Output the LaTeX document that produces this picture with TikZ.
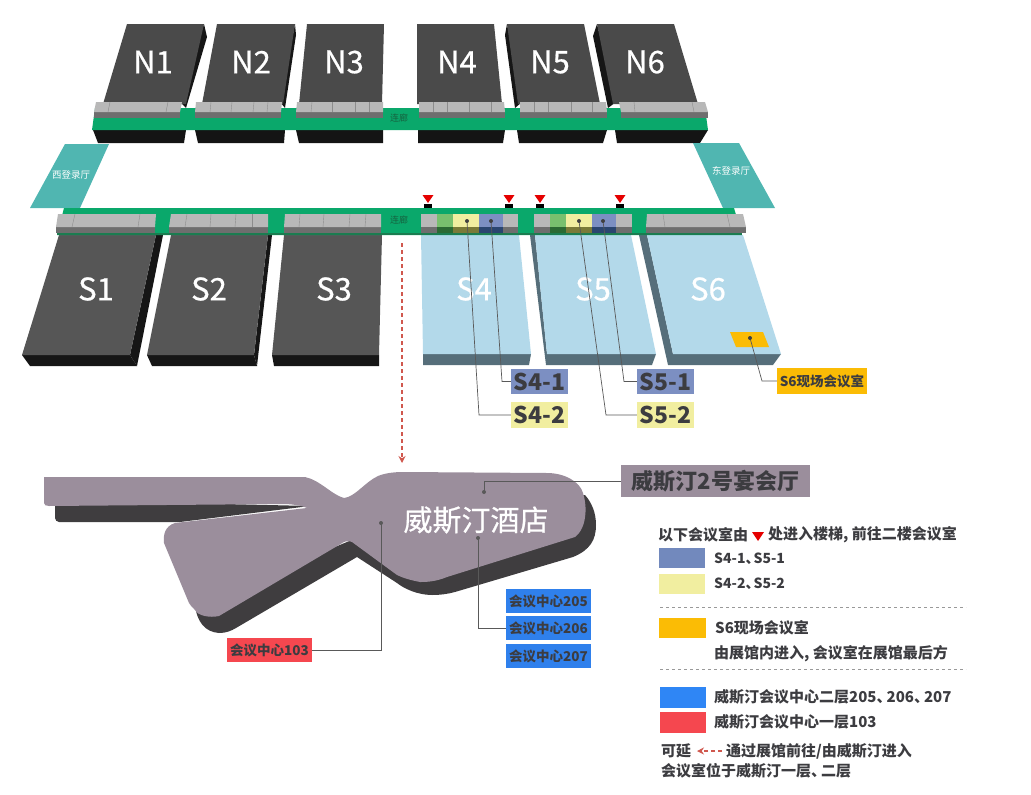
\documentclass[tikz,border=0pt]{standalone}
\usepackage{fontspec}
\setmainfont{Noto Sans CJK SC}
\newfontfamily\medfont[FakeBold=0.6]{Noto Sans CJK SC}
\usetikzlibrary{arrows.meta}

\definecolor{hallN}{HTML}{4A4A4A}
\definecolor{hallS}{HTML}{565656}
\definecolor{hallSide}{HTML}{161616}
\definecolor{hallBlue}{HTML}{B3D9EA}
\definecolor{hallBlueSide}{HTML}{566E7A}
\definecolor{bandGreen}{HTML}{0AA86B}
\definecolor{bandDark}{HTML}{1B7C50}
\definecolor{lobbyTeal}{HTML}{50B6B1}
\definecolor{barTop}{HTML}{B8B8B8}
\definecolor{barFront}{HTML}{6E6E6E}
\definecolor{cellGreen}{HTML}{78C06E}
\definecolor{cellGreenFront}{HTML}{2B6A33}
\definecolor{cellYellowFront}{HTML}{7A7A38}
\definecolor{cellBlueFront}{HTML}{2A4570}
\definecolor{roomBlue}{HTML}{7C8FC2}
\definecolor{roomYellow}{HTML}{F1EEA0}
\definecolor{roomOrange}{HTML}{FBBC05}
\definecolor{hotelBlue}{HTML}{2F80EC}
\definecolor{hotelRed}{HTML}{F5474F}
\definecolor{hotelGrey}{HTML}{9B8E9C}
\definecolor{hotelShade}{HTML}{3F3D3F}
\definecolor{inkDark}{HTML}{3C3C40}
\definecolor{flowRed}{HTML}{D0584E}
\definecolor{legendBlue}{HTML}{7289BD}
\definecolor{legendHotel}{HTML}{2F86F5}

\tikzset{
    halllabel/.style={text=white, font=\medfont\fontsize{31}{31}\selectfont, inner sep=0pt},
    lobbylabel/.style={text=white, font=\fontsize{9.5}{10}\selectfont, inner sep=0pt},
    bandlabel/.style={text=bandDark!80!black, font=\fontsize{9}{9}\selectfont, inner sep=0pt},
    roomtag/.style={text=inkDark, font=\bfseries\fontsize{23}{23}\selectfont, inner sep=0pt, minimum width=57, minimum height=25.5},
    smalltag/.style={text=inkDark, font=\bfseries\fontsize{13.5}{14}\selectfont, inner sep=0pt, minimum width=84.5, minimum height=24},
    leader/.style={draw=black!65, line width=0.7pt},
    legendtext/.style={text=inkDark, font=\bfseries\fontsize{15}{15}\selectfont, inner sep=0pt, anchor=west},
    legendline/.style={draw=black!40, line width=0.5pt, dash pattern=on 3pt off 3pt},
    routeline/.style={flowRed, line width=1.3pt, dash pattern=on 4pt off 3pt, -{Stealth[length=7pt, width=7pt]}}
}

% top face and front face of a strip along a hall
\newcommand{\gatebar}[7]{
    \fill[barFront] (#3,#6) -- (#4,#6) -- (#4,#7) -- (#3,#7) -- cycle;
    \fill[barTop] (#1,#5) -- (#2,#5) -- (#4,#6) -- (#3,#6) -- cycle;
}

\begin{document}
\begin{tikzpicture}[x=1pt, y=-1pt]
    \useasboundingbox (0,0) rectangle (1031,795);

    % North halls, undersides
    \foreach \xa/\xb/\xc/\xd in {93/98/184/186, 195/198/284/285, 296/299/383/383, 418/418/503/505, 517/519/603/607, 615/617/700/708}
        \fill[black!92] (\xa,130) -- (\xb,143) -- (\xc,143) -- (\xd,130) -- cycle;

    % North halls
    \fill[hallSide] (204,24) -- (207,37) -- (186,108) -- (180,102) -- cycle;
    \fill[hallSide] (295,24) -- (296,35) -- (285,108) -- (280,102) -- cycle;
    \fill[hallSide] (507,24) -- (505,35) -- (515,108) -- (522,102) -- cycle;
    \fill[hallSide] (597,24) -- (593,36) -- (608,108) -- (616,102) -- cycle;
    \fill[hallN] (127,24) -- (204,24) -- (186,104) -- (103,104) -- cycle;
    \fill[hallN] (217,24) -- (295,24) -- (283,104) -- (202,104) -- cycle;
    \fill[hallN] (307,24) -- (384,24) -- (382,104) -- (299,104) -- cycle;
    \fill[hallN] (417,24) -- (494,24) -- (502,104) -- (417,104) -- cycle;
    \fill[hallN] (507,24) -- (584,24) -- (600,104) -- (518,104) -- cycle;
    \fill[hallN] (597,24) -- (674,24) -- (698,104) -- (613,104) -- cycle;

    % North corridor
    \fill[bandGreen] (95,108) -- (705,108) -- (708,130) -- (92,130) -- cycle;
    \node[bandlabel] (northwalk) at (399,118) {连廊};

    % North strips
    \gatebar{96}{182}{94}{180}{102}{112}{118}
    \gatebar{196}{282}{195}{281}{102}{112}{118}
    \gatebar{297}{383}{296}{383}{102}{112}{118}
    \gatebar{419}{504}{419}{505}{102}{112}{118}
    \gatebar{520}{606}{520}{607}{102}{112}{118}
    \gatebar{619}{705}{621}{708}{102}{112}{118}
    \foreach \xa/\xb in {110/108, 168/166, 211/210, 232/231, 254/253, 268/267, 312/311, 332/332, 355/355, 369/369, 433/433, 447/447, 469/469, 491/491, 534/534, 548/548, 571/571, 592/592, 634/635, 692/694}
        \draw[black!45, line width=0.4pt] (\xa,102) -- (\xb,112);

    % Lobbies
    \fill[lobbyTeal] (65,144) -- (109,144) -- (80,208) -- (30,208) -- cycle;
    \fill[lobbyTeal] (693,143) -- (739,143) -- (775,208) -- (723,208) -- cycle;
    \node[lobbylabel] (westhall) at (71,175) {西登录厅};
    \node[lobbylabel] (easthall) at (731,171) {东登录厅};

    % South halls
    \fill[hallSide] (156,235) -- (163,235) -- (137,366) -- (130,355) -- cycle;
    \fill[hallSide] (22,355) -- (130,355) -- (137,366) -- (30,366) -- cycle;
    \fill[hallS] (59,235) -- (156,235) -- (130,355) -- (22,355) -- cycle;
    \fill[hallSide] (268,235) -- (272,235) -- (257,366) -- (254,355) -- cycle;
    \fill[hallSide] (147,355) -- (254,355) -- (257,366) -- (152,366) -- cycle;
    \fill[hallS] (171,235) -- (268,235) -- (254,355) -- (147,355) -- cycle;
    \fill[hallSide] (272,355) -- (379,355) -- (379,366) -- (274,366) -- cycle;
    \fill[hallS] (284,235) -- (382,235) -- (379,355) -- (272,355) -- cycle;

    % South halls with rooms
    \fill[hallBlueSide] (423,354) -- (531,354) -- (529,365) -- (423,365) -- cycle;
    \fill[hallBlue] (421,235) -- (519,235) -- (531,354) -- (423,354) -- cycle;
    \fill[hallBlueSide] (530,235) -- (535,235) -- (547,354) -- (656,354) -- (652,365) -- (546,365) -- cycle;
    \fill[hallBlue] (535,235) -- (631,235) -- (656,354) -- (547,354) -- cycle;
    \fill[hallBlueSide] (639,235) -- (647,235) -- (673,354) -- (781,354) -- (773,365) -- (668,365) -- cycle;
    \fill[hallBlue] (647,235) -- (743,235) -- (781,354) -- (673,354) -- cycle;
    \fill[roomOrange] (730,332) -- (763,332) -- (769,347) -- (736,347) -- cycle;

    % South corridor
    \fill[bandGreen] (64,208) -- (734,208) -- (742,235) -- (57,235) -- cycle;
    \fill[bandDark] (57,233) -- (742,233) -- (742,235) -- (57,235) -- cycle;
    \node[bandlabel] (southwalk) at (399,220) {连廊};

    % South strips
    \gatebar{58}{156}{56}{155}{214}{227}{233}
    \gatebar{171}{268}{169}{268}{214}{227}{233}
    \gatebar{285}{381}{284}{381}{214}{227}{233}
    \gatebar{647}{743}{646}{746}{214}{227}{233}
    \foreach \xa/\xb in {75/72, 140/138, 187/185, 211/210, 236/235, 252/252, 300/299, 324/323, 350/349, 366/365, 663/665, 727/730}
        \draw[black!45, line width=0.4pt] (\xa,214) -- (\xb,227);

    % Strips with rooms
    \foreach \xa/\xb/\ctop/\cfront in {421/437/barTop/barFront, 437/453/cellGreen/cellGreenFront, 453/479/roomYellow/cellYellowFront, 479/503/roomBlue/cellBlueFront, 503/518/barTop/barFront,
                                       534/550/barTop/barFront, 550/566/cellGreen/cellGreenFront, 566/592/roomYellow/cellYellowFront, 592/616/roomBlue/cellBlueFront, 616/632/barTop/barFront} {
        \fill[\ctop] (\xa,214) rectangle (\xb,227);
        \fill[\cfront] (\xa,227) rectangle (\xb,233);
    }

    % Stairs
    \foreach \xa in {428, 509, 540, 620} {
        \fill[black] (\xa-4,204) rectangle (\xa+4,208);
        \fill[red!90!black] (\xa-5.5,195) -- (\xa+5.5,195) -- (\xa,203) -- cycle;
    }

    % Hall labels
    \node[halllabel] (hallnone) at (153,62) {N1};
    \node[halllabel] (hallntwo) at (251,62) {N2};
    \node[halllabel] (hallnthree) at (344,62) {N3};
    \node[halllabel] (hallnfour) at (457,62) {N4};
    \node[halllabel] (hallnfive) at (550,62) {N5};
    \node[halllabel] (hallnsix) at (645,62) {N6};
    \node[halllabel] (hallsone) at (96,289) {S1};
    \node[halllabel] (hallstwo) at (209,289) {S2};
    \node[halllabel] (hallsthree) at (334,289) {S3};
    \node[halllabel] (hallsfour) at (474,289) {S4};
    \node[halllabel] (hallsfive) at (593,289) {S5};
    \node[halllabel] (hallssix) at (708,289) {S6};

    % Room tags
    \node[roomtag, fill=roomBlue] (sfourone) at (539.5,381.5) {S4-1};
    \node[roomtag, fill=roomYellow] (sfourtwo) at (539.5,415) {S4-2};
    \node[roomtag, fill=roomBlue] (sfiveone) at (665.5,381.5) {S5-1};
    \node[roomtag, fill=roomYellow] (sfivetwo) at (665.5,415) {S5-2};
    \node[smalltag, fill=roomOrange, minimum width=90, minimum height=26] (ssixroom) at (822,381) {S6现场会议室};

    % Leaders
    \coordinate (dotfourone) at (491,221);
    \coordinate (dotfourtwo) at (467,221);
    \coordinate (dotfiveone) at (603,221);
    \coordinate (dotfivetwo) at (579,221);
    \coordinate (dotsix) at (750,338);
    \draw[leader] (dotfourone) -- (502,381.5) -- (sfourone.west);
    \draw[leader] (dotfourtwo) -- (479,415) -- (sfourtwo.west);
    \draw[leader] (dotfiveone) -- (624,381.5) -- (sfiveone.west);
    \draw[leader] (dotfivetwo) -- (606,415) -- (sfivetwo.west);
    \draw[leader] (dotsix) -- (762,381) -- (ssixroom.west);
    \foreach \p in {dotfourone, dotfourtwo, dotfiveone, dotfivetwo, dotsix}
        \fill[black!75] (\p) circle (2);

    % Route to the hotel
    \coordinate (routestart) at (402,243);
    \coordinate (routeend) at (402,463);
    \draw[routeline] (routestart) -- (routeend);

    % Hotel shadow
    \fill[hotelShade] (55,500) -- (55,518) .. controls (55,520) and (57,522) .. (59,522) -- (180,522) -- (310,506) -- cycle;
    \fill[hotelShade] (195,605) .. controls (197,622) and (205,632) .. (219,633) .. controls (226,633) and (231,631) .. (236,628) -- (357,557) -- (397,583) .. controls (410,593) and (425,595) .. (432,595) .. controls (440,595) and (448,594) .. (455,592) -- (573,557) .. controls (590,550) and (596,540) .. (596,525) .. controls (596,513) and (592,503) .. (585,495) -- (400,520) -- cycle;

    % Hotel
    \fill[hotelGrey] (44,477) -- (305,477) .. controls (320,480) and (332,495) .. (344,498) .. controls (355,497) and (365,482) .. (378,476) .. controls (385,473) and (395,472) .. (403,472) -- (547,473) .. controls (565,473) and (580,482) .. (583,493) .. controls (587,505) and (586,520) .. (582,528) .. controls (580,532) and (578,535) .. (575,537) -- (447,577) .. controls (435,582) and (425,582) .. (420,582) .. controls (410,580) and (403,578) .. (397,575) -- (352,542) .. controls (350,541) and (346,541) .. (344,542) -- (219,616) .. controls (210,618) and (198,616) .. (195,610) .. controls (192,607) and (190,605) .. (189,603) -- (164,543) .. controls (163,535) and (165,526) .. (175,523) -- (307,508) .. controls (300,505) and (290,504) .. (283,504) -- (49,506) .. controls (46,506) and (44,505) .. (44,503) -- cycle;
    \node[text=white, font=\medfont\fontsize{29}{29}\selectfont, inner sep=0pt] (hotelname) at (476,520) {威斯汀酒店};

    % Hotel tags
    \node[roomtag, fill=hotelGrey, font=\bfseries\fontsize{22}{22}\selectfont, minimum width=189, minimum height=32] (banquet) at (715.5,481) {威斯汀2号宴会厅};
    \node[smalltag, fill=hotelBlue] (centerfive) at (548.5,601) {会议中心205};
    \node[smalltag, fill=hotelBlue] (centersix) at (548.5,628) {会议中心206};
    \node[smalltag, fill=hotelBlue] (centerseven) at (548.5,656) {会议中心207};
    \node[smalltag, fill=hotelRed] (centerthree) at (269.5,650) {会议中心103};

    \coordinate (dotbanquet) at (484,492);
    \coordinate (dotsixroom) at (478,538);
    \coordinate (dotthree) at (381,523);
    \draw[leader] (dotbanquet) -- (484,481) -- (banquet.west);
    \draw[leader] (dotsixroom) -- (478,628) -- (centersix.west);
    \draw[leader] (dotthree) -- (381,650) -- (centerthree.east);
    \foreach \p in {dotbanquet, dotsixroom, dotthree}
        \fill[black!65] (\p) circle (2);

    % Legend
    \node[legendtext] (legendheadleft) at (658,535) {以下会议室由};
    \fill[red!90!black] (752,532) -- (764,532) -- (758,541) -- cycle;
    \node[legendtext] (legendheadright) at (768,535) {处进入楼梯, 前往二楼会议室};

    \fill[legendBlue] (659,548) rectangle (705,568);
    \node[legendtext, font=\bfseries\fontsize{14}{15}\selectfont] (legendblue) at (714,559) {S4-1、\kern-6pt S5-1};
    \fill[roomYellow] (659,574) rectangle (705,594);
    \node[legendtext, font=\bfseries\fontsize{14}{15}\selectfont] (legendyellow) at (714,584) {S4-2、\kern-6pt S5-2};
    \draw[legendline] (660,607) -- (966,607);

    \fill[roomOrange] (659,618) rectangle (706,638);
    \node[legendtext] (legendorange) at (715,628) {S6现场会议室};
    \node[legendtext] (legendenter) at (714,654) {由展馆内进入, 会议室在展馆最后方};
    \draw[legendline] (660,669) -- (966,669);

    \fill[legendHotel] (660,687) rectangle (706,708);
    \node[legendtext] (legendupper) at (714,697) {威斯汀会议中心二层205、\kern-5pt 206、\kern-5pt 207};
    \fill[hotelRed] (660,712) rectangle (706,733);
    \node[legendtext] (legendlower) at (714,722) {威斯汀会议中心一层103};

    \node[legendtext] (legendmay) at (661,751) {可延};
    \coordinate (legendarrowstart) at (722,751);
    \coordinate (legendarrowend) at (697,751);
    \draw[routeline] (legendarrowstart) -- (legendarrowend);
    \node[legendtext] (legendvia) at (726,751) {通过展馆前往/由威斯汀进入};
    \node[legendtext] (legendfloors) at (661,771) {会议室位于威斯汀一层、\kern-5pt 二层};

\end{tikzpicture}
\end{document}
